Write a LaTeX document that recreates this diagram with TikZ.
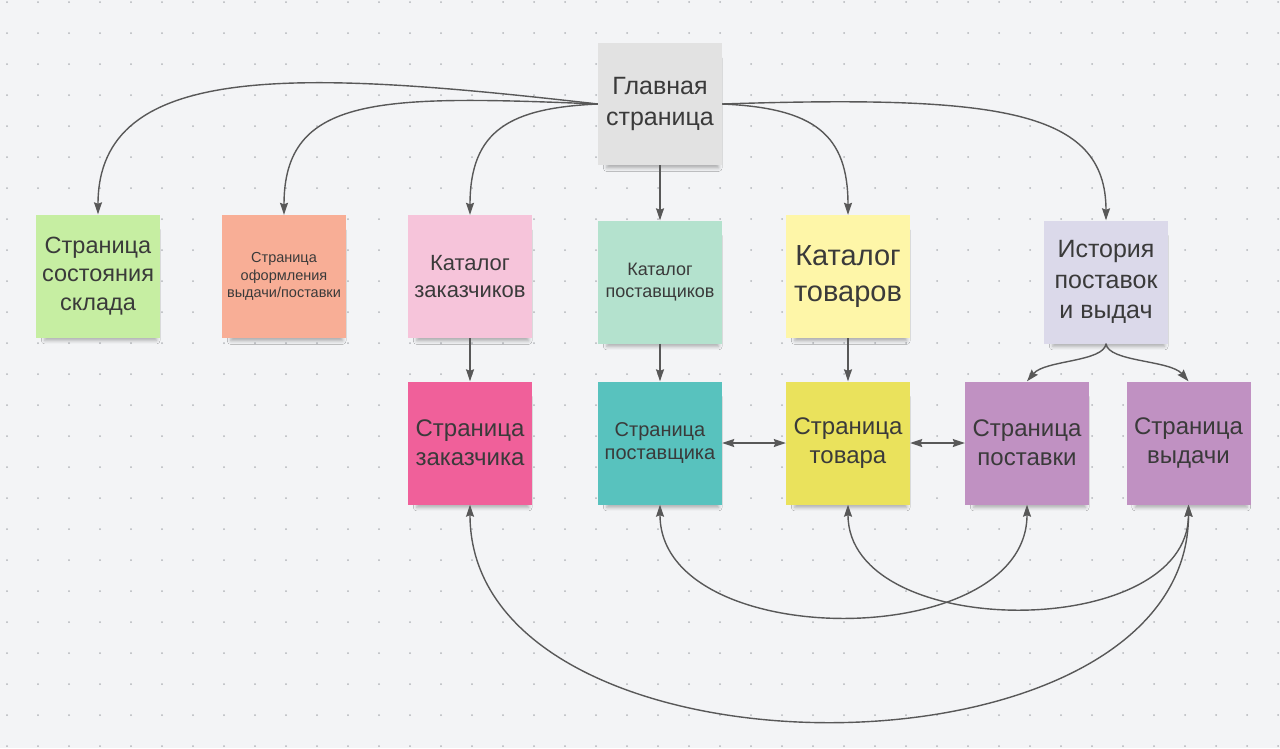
\documentclass[tikz,border=0pt]{standalone}
\usepackage{fontspec}
\setmainfont{Liberation Sans}
\usetikzlibrary{arrows.meta,shadows.blur}
\definecolor{bgc}{RGB}{243,244,246}
\definecolor{dotc}{RGB}{180,182,186}
\definecolor{linec}{RGB}{88,88,88}
\definecolor{textc}{RGB}{58,58,58}
\definecolor{cmain}{RGB}{226,226,226}
\definecolor{csklad}{RGB}{198,238,162}
\definecolor{coform}{RGB}{248,174,150}
\definecolor{ckzak}{RGB}{246,196,218}
\definecolor{ckpost}{RGB}{180,226,206}
\definecolor{cktov}{RGB}{254,246,168}
\definecolor{chist}{RGB}{219,217,234}
\definecolor{cszak}{RGB}{240,96,154}
\definecolor{cspost}{RGB}{88,194,190}
\definecolor{cstov}{RGB}{234,226,92}
\definecolor{cpurp}{RGB}{192,145,194}
\newcommand\fsz[2]{\fontsize{#1}{#2}\selectfont}
\begin{document}
\begin{tikzpicture}[x=1pt,y=-1pt,
  box/.style={minimum width=124pt, minimum height=123pt, inner sep=2pt,
    align=center, text=textc,
    blur shadow={shadow xshift=3pt, shadow yshift=-10pt, shadow opacity=30,
      shadow blur radius=4pt, shadow scale=0.9}},
  conn/.style={draw=linec, line width=1.4pt,
    -{Stealth[length=12pt,width=8pt,inset=1.5pt]}},
  bconn/.style={draw=linec, line width=1.4pt,
    {Stealth[length=12pt,width=8pt,inset=1.5pt]}-{Stealth[length=12pt,width=8pt,inset=1.5pt]}}]
\useasboundingbox (0,0) rectangle (1280,748);
\fill[bgc] (0,0) rectangle (1280,748);
\foreach \i in {0,...,41}{
  \foreach \j in {0,...,24}{
    \fill[dotc] (7+31*\i, 2+31*\j) circle (1pt);
  }
}
% nodes
\node[box, fill=cmain, minimum height=122pt, font=\fsz{25}{31}] (main) at (660,104) {Главная\\страница};
\node[box, fill=csklad, font=\fsz{23.5}{28.5}] (sklad) at (98,276) {Страница\\состояния\\склада};
\node[box, fill=coform, font=\fsz{14.5}{17.5}] (oform) at (284,276.5) {Страница\\оформления\\выдачи/поставки};
\node[box, fill=ckzak, font=\fsz{22}{27}] (kzak) at (470,276.5) {Каталог\\заказчиков};
\node[box, fill=ckpost, font=\fsz{18}{22}] (kpost) at (660,282) {Каталог\\поставщиков};
\node[box, fill=cktov, font=\fsz{29}{36}] (ktov) at (848,276.5) {Каталог\\товаров};
\node[box, fill=chist, font=\fsz{25}{30.5}] (hist) at (1106,282) {История\\поставок\\и выдач};
\node[box, fill=cszak, font=\fsz{24}{29}] (szak) at (470,443) {Страница\\заказчика};
\node[box, fill=cspost, font=\fsz{20}{23.5}] (spost) at (660,443) {Страница\\поставщика};
\node[box, fill=cstov, font=\fsz{24}{29}] (stov) at (848,443) {Страница\\товара};
\node[box, fill=cpurp, font=\fsz{24}{29}] (spostav) at (1027,443) {Страница\\поставки};
\node[box, fill=cpurp, font=\fsz{24}{29}] (svyd) at (1188.5,443) {Страница\\выдачи};
% connectors from main
\draw[conn] (main.west) .. controls (300,70) and (98,60) .. (sklad.north);
\draw[conn] (main.west) .. controls (380,95) and (284,95) .. (oform.north);
\draw[conn] (main.west) .. controls (510,108) and (470,130) .. (kzak.north);
\draw[conn] (main.south) -- (kpost.north);
\draw[conn] (main.east) .. controls (815,108) and (848,135) .. (ktov.north);
\draw[conn] (main.east) .. controls (1000,95) and (1106,110) .. (hist.north);
% catalogs to pages
\draw[conn] (kzak.south) -- (szak.north);
\draw[conn] (kpost.south) -- (spost.north);
\draw[conn] (ktov.south) -- (stov.north);
\draw[conn] (hist.south) .. controls (1104,362) and (1045,360) .. (spostav.north);
\draw[conn] (hist.south) .. controls (1108,362) and (1170,360) .. (svyd.north);
% horizontal
\draw[bconn] (spost.east) -- (stov.west);
\draw[bconn] (stov.east) -- (spostav.west);
% bottom arcs
\draw[bconn] (spost.south) .. controls (660,653) and (1027,653) .. (spostav.south);
\draw[bconn] (stov.south) .. controls (848,642) and (1188.5,642) .. (svyd.south);
\draw[bconn] (szak.south) .. controls (470,792) and (1188.5,792) .. (svyd.south);
\end{tikzpicture}
\end{document}
